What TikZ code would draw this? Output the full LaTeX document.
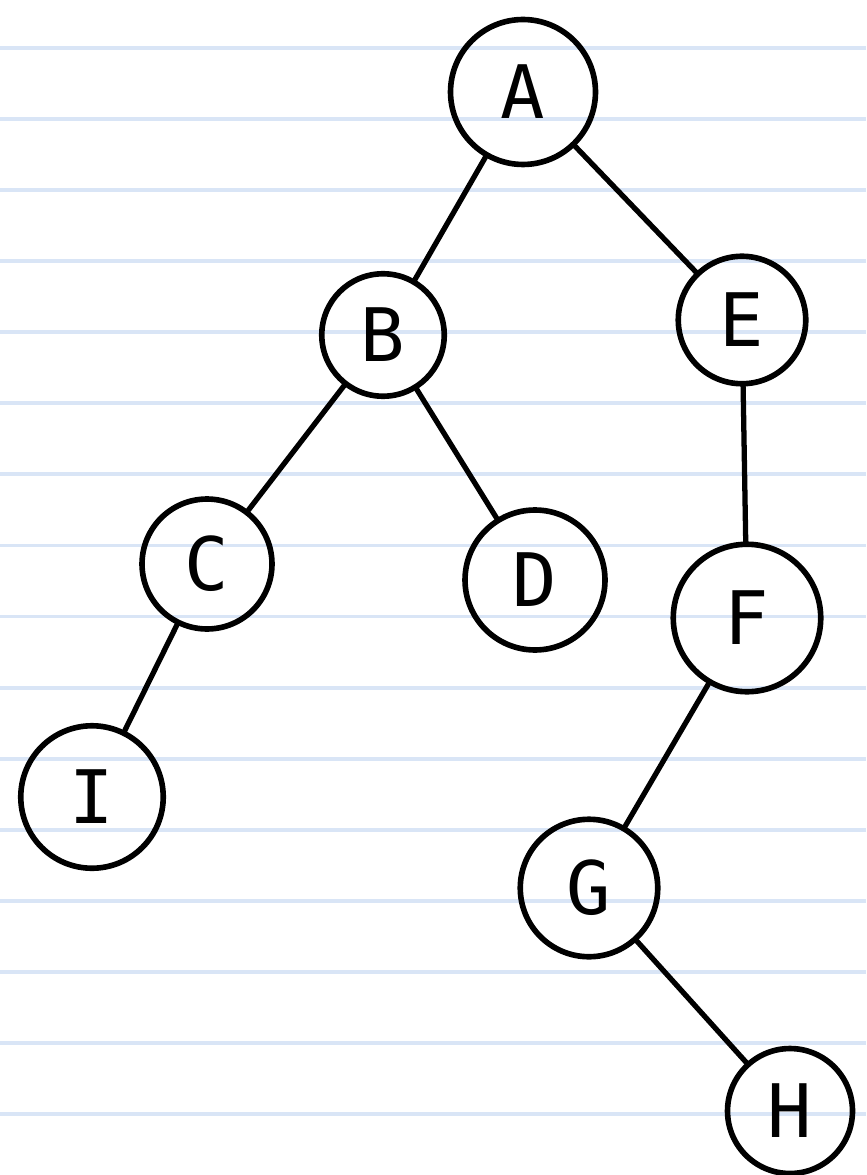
\documentclass[tikz,border=0pt]{standalone}
\usepackage{fontspec}
\setmainfont{DejaVu Sans Mono}
\definecolor{ruleblue}{HTML}{D9E5F6}

\begin{document}
\begin{tikzpicture}[
  x=0.02cm, y=-0.02cm,
  vertex/.style={circle, draw, line width=3.2pt, minimum size=#1, inner sep=0pt, font=\fontsize{42}{42}\selectfont},
  edge/.style={line width=3pt, line cap=round},
  rule/.style={line width=2.2pt, ruleblue}
]

  \useasboundingbox (0,0) rectangle (866,1175);

  % ruled paper
  \foreach \k in {0,...,15}
    \draw[rule] (0,{48+71.07*\k}) -- (866,{48+71.07*\k});

  \node[vertex=2.9cm]  (a) at (523,92)   {A};
  \node[vertex=2.45cm] (b) at (383,335)  {B};
  \node[vertex=2.55cm] (e) at (742,320)  {E};
  \node[vertex=2.6cm]  (c) at (207,564)  {C};
  \node[vertex=2.8cm]  (d) at (535,580)  {D};
  \node[vertex=2.95cm] (f) at (747,618)  {F};
  \node[vertex=2.85cm] (i) at (92,797)   {I};
  \node[vertex=2.75cm] (g) at (589,888)  {G};
  \node[vertex=2.5cm]  (h) at (790,1111) {H};

  \draw[edge] (a) -- (b);
  \draw[edge] (a) -- (e);
  \draw[edge] (b) -- (c);
  \draw[edge] (b) -- (d);
  \draw[edge] (c) -- (i);
  \draw[edge] (e) -- (f);
  \draw[edge] (f) -- (g);
  \draw[edge] (g) -- (h);

\end{tikzpicture}
\end{document}
